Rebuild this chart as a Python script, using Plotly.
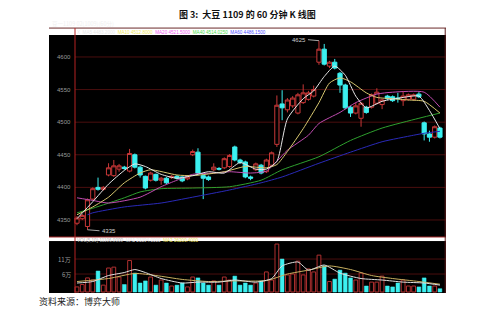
import plotly.graph_objects as go

# ---------------- data ----------------
idx = list(range(70))
opens = [4345, 4352, 4340, 4382, 4400, 4397, 4419, 4418, 4428, 4431,
         4425, 4450, 4431, 4417, 4411, 4420, 4411, 4414, 4415, 4417,
         4416, 4413, 4450, 4454, 4418, 4416, 4427, 4429, 4430, 4432,
         4462, 4442, 4439, 4416, 4427, 4434, 4424, 4434, 4466, 4528,
         4519, 4525, 4514, 4530, 4535, 4540, 4592, 4612, 4586, 4592,
         4575, 4557, 4523, 4514, 4506, 4523, 4523, 4529, 4527, 4540,
         4539, 4537, 4533, 4535, 4535, 4543, 4499, 4482, 4477, 4491]
highs = [4356, 4359, 4383, 4400, 4415, 4402, 4437, 4442, 4436, 4433,
         4459, 4452, 4433, 4418, 4424, 4421, 4416, 4416, 4419, 4419,
         4417, 4418, 4458, 4460, 4420, 4418, 4437, 4431, 4446, 4451,
         4464, 4444, 4441, 4418, 4438, 4436, 4444, 4455, 4541, 4549,
         4537, 4540, 4545, 4558, 4548, 4556, 4625, 4620, 4594, 4597,
         4577, 4559, 4525, 4530, 4531, 4525, 4544, 4552, 4536, 4542,
         4541, 4545, 4548, 4544, 4544, 4546, 4501, 4487, 4495, 4493]
lows = [4342, 4350, 4335, 4380, 4395, 4395, 4417, 4416, 4424, 4427,
        4423, 4429, 4415, 4397, 4409, 4409, 4404, 4405, 4413, 4412,
        4408, 4411, 4448, 4420, 4382, 4410, 4425, 4426, 4428, 4430,
        4440, 4436, 4414, 4411, 4425, 4420, 4422, 4432, 4462, 4503,
        4515, 4522, 4512, 4528, 4533, 4538, 4588, 4587, 4583, 4581,
        4545, 4520, 4508, 4512, 4493, 4513, 4521, 4527, 4520, 4534,
        4531, 4530, 4525, 4533, 4533, 4537, 4472, 4470, 4475, 4475]
closes = [4353, 4357, 4381, 4398, 4397, 4400, 4430, 4433, 4433, 4429,
          4452, 4431, 4419, 4399, 4422, 4411, 4414, 4407, 4417, 4414,
          4410, 4416, 4455, 4422, 4414, 4412, 4431, 4428, 4444, 4449,
          4442, 4438, 4416, 4414, 4436, 4422, 4442, 4453, 4526, 4522,
          4534, 4537, 4542, 4545, 4545, 4550, 4612, 4589, 4592, 4583,
          4557, 4522, 4514, 4525, 4529, 4515, 4542, 4546, 4534, 4536,
          4533, 4536, 4540, 4542, 4542, 4539, 4482, 4477, 4493, 4477]
# volume, unit: 10,000 (万)
volumes = [1.7, 2.5, 4.7, 4.0, 7.0, 2.3, 8.0, 8.3, 5.0, 2.5,
           10.5, 6.3, 3.0, 3.7, 5.0, 2.3, 4.0, 3.0, 2.0, 2.3,
           3.0, 1.7, 5.0, 4.7, 3.0, 2.3, 3.7, 2.3, 5.0, 4.0,
           5.3, 2.3, 3.0, 2.3, 3.0, 3.7, 6.7, 4.0, 16.0, 11.0,
           5.7, 6.0, 10.3, 5.7, 7.7, 6.7, 12.3, 8.7, 3.5, 4.3,
           7.3, 6.3, 4.7, 4.0, 6.3, 2.0, 3.3, 3.3, 5.3, 2.0,
           1.7, 3.0, 4.0, 2.0, 2.0, 1.7, 4.7, 2.0, 2.0, 1.1]

# moving-average lines (candle index, value)
ma5_x = [0, 3, 6, 9, 11, 13, 16, 19, 22, 25, 28, 31, 34, 36, 38, 40, 43, 45, 47, 49, 51, 53, 55, 58, 62, 65, 67, 69]
ma5_y = [4352, 4378, 4405, 4426, 4436, 4432, 4420, 4414, 4418, 4424, 4422, 4438, 4428, 4428, 4440, 4505, 4536, 4548,
         4570, 4586, 4572, 4540, 4522, 4532, 4538, 4540, 4518, 4490]
ma10_x = [0, 3, 6, 9, 12, 14, 19, 22, 28, 32, 36, 38, 40, 43, 46, 48, 50, 52, 55, 57, 60, 63, 66, 69]
ma10_y = [4358, 4370, 4385, 4407, 4422, 4427, 4419, 4418, 4424, 4432, 4430, 4435, 4455, 4490, 4530, 4560, 4568,
          4562, 4545, 4538, 4536, 4534, 4532, 4514]
ma20_x = [0, 3, 6, 12, 16, 19, 22, 26, 29, 33, 36, 38, 40, 44, 46, 50, 53, 57, 60, 66, 69]
ma20_y = [4384, 4380, 4376, 4385, 4401, 4411, 4420, 4422, 4424, 4422, 4425, 4440, 4457, 4480, 4498, 4515, 4530,
          4543, 4546, 4546, 4523]
ma40_x = [0, 3, 9, 12, 16, 22, 29, 35, 39, 46, 52, 58, 65, 69]
ma40_y = [4361, 4368, 4384, 4393, 4398, 4399, 4401, 4411, 4427, 4447, 4472, 4491, 4506, 4514]
ma60_x = [2, 3, 9, 16, 22, 29, 35, 39, 46, 52, 58, 64, 66, 69]
ma60_y = [4358, 4361, 4370, 4376, 4385, 4396, 4407, 4416, 4437, 4454, 4470, 4480, 4483, 4486]

vma5_x = [0, 3, 6, 9, 11, 13, 16, 20, 23, 27, 30, 34, 37, 39, 42, 44, 47, 50, 54, 58, 62, 66, 69]
vma5_y = [3.0, 3.5, 5.5, 6.5, 7.5, 6.5, 4.5, 3.0, 3.3, 3.3, 4.0, 3.3, 4.5, 8.7, 10.0, 7.3, 9.0, 6.3, 4.5, 4.0, 3.3, 3.0, 2.3]
vma10_x = [0, 6, 11, 15, 20, 25, 30, 36, 40, 44, 48, 52, 56, 60, 65, 69]
vma10_y = [3.5, 4.5, 6.2, 5.5, 4.2, 3.5, 3.7, 3.8, 6.0, 7.3, 8.7, 7.5, 5.5, 4.5, 3.5, 2.6]

price_ticks = [4350, 4400, 4450, 4500, 4550, 4600]
vol_ticks = [6, 11]
vol_tick_text = ["6万", "11万"]

title_text = "图 3:  大豆 1109 的 60 分钟 K 线图"
header_text = "豆一1109 02(1009)(60分)"
source_text = "资料来源：博弈大师"
low_label, high_label = 4335, 4625

# ---------------- figure ----------------
RED = "#c83838"
CYAN = "#3cf0f0"
fig = go.Figure()

fig.add_trace(go.Candlestick(
    x=idx, open=opens, high=highs, low=lows, close=closes,
    increasing=dict(line=dict(color=RED, width=1), fillcolor="#000000"),
    decreasing=dict(line=dict(color=CYAN, width=1), fillcolor=CYAN),
    whiskerwidth=0, showlegend=False, hoverinfo="skip",
    xaxis="x", yaxis="y"))

for xs, ys, col in [(ma60_x, ma60_y, "#2a2ab8"), (ma40_x, ma40_y, "#2ea02e"),
                    (ma20_x, ma20_y, "#c04cb0"), (ma10_x, ma10_y, "#d8c870"),
                    (ma5_x, ma5_y, "#e6e6e6")]:
    fig.add_trace(go.Scatter(x=xs, y=ys, mode="lines",
                             line=dict(color=col, width=1, shape="spline", smoothing=0.6),
                             showlegend=False, hoverinfo="skip", xaxis="x", yaxis="y"))

up_x = [i for i in idx if closes[i] >= opens[i]]
dn_x = [i for i in idx if closes[i] < opens[i]]
fig.add_trace(go.Bar(x=up_x, y=[volumes[i] for i in up_x], width=0.72,
                     marker=dict(color="#000000", line=dict(color="#b03030", width=1)),
                     showlegend=False, hoverinfo="skip", xaxis="x", yaxis="y2"))
fig.add_trace(go.Bar(x=dn_x, y=[volumes[i] for i in dn_x], width=0.72,
                     marker=dict(color=CYAN, line=dict(color=CYAN, width=0.5)),
                     showlegend=False, hoverinfo="skip", xaxis="x", yaxis="y2"))
for xs, ys, col in [(vma10_x, vma10_y, "#c8b060"), (vma5_x, vma5_y, "#e0e0e0")]:
    fig.add_trace(go.Scatter(x=xs, y=ys, mode="lines",
                             line=dict(color=col, width=1, shape="spline", smoothing=0.6),
                             showlegend=False, hoverinfo="skip", xaxis="x", yaxis="y2"))

AXX = 0.0655  # left vertical axis line position (paper)
shapes = []
for v in price_ticks:
    shapes.append(dict(type="line", xref="paper", yref="y", x0=AXX, x1=1, y0=v, y1=v,
                       line=dict(color="#4a0e0e", width=1), layer="below"))
for v in vol_ticks:
    shapes.append(dict(type="line", xref="paper", yref="y2", x0=AXX, x1=1, y0=v, y1=v,
                       line=dict(color="#4a0e0e", width=1), layer="below"))
shapes += [
    dict(type="line", xref="paper", yref="paper", x0=0, x1=1, y0=0.974, y1=0.974,
         line=dict(color="#6a2a2a", width=1)),
    dict(type="line", xref="paper", yref="paper", x0=0, x1=1, y0=0.2059, y1=0.2059,
         line=dict(color="#a02626", width=1)),
    dict(type="line", xref="paper", yref="paper", x0=AXX, x1=AXX, y0=0, y1=0.974,
         line=dict(color="#b42222", width=1)),
    dict(type="line", xref="paper", yref="paper", x0=0.998, x1=0.998, y0=0, y1=0.974,
         line=dict(color="#5a1a1a", width=1)),
]

MONO = "DejaVu Sans Mono"
ann = []
for v in price_ticks:
    ann.append(dict(xref="paper", yref="y", x=0.0605, y=v, text=str(v), showarrow=False,
                    xanchor="right", yanchor="middle",
                    font=dict(family="Liberation Sans", size=6, color="#9a9a9a")))
for v, t in zip(vol_ticks, vol_tick_text):
    ann.append(dict(xref="paper", yref="y2", x=0.0605, y=v, text=t, showarrow=False,
                    xanchor="right", yanchor="middle",
                    font=dict(family="Noto Sans CJK SC", size=6, color="#9a9a9a")))
ann.append(dict(xref="paper", yref="paper", x=0.003, y=0.988, text=header_text, showarrow=False,
                xanchor="left", yanchor="middle", font=dict(family="Noto Sans CJK SC", size=5.5, color="#f0f0f0")))
legend_html = ("<span style='color:#e8e8e8'>X  MA5 4483.2000</span>  "
               "<span style='color:#f0e860'>MA10 4512.8000</span>  "
               "<span style='color:#f060f0'>MA20 4521.5000</span>  "
               "<span style='color:#50e050'>MA40 4514.0250</span>  "
               "<span style='color:#5050ff'>MA60 4486.1500</span>")
ann.append(dict(xref="paper", yref="paper", x=0.066, y=0.958, text=legend_html, showarrow=False,
                xanchor="left", yanchor="middle", font=dict(family="Liberation Sans", size=4.6, color="#e0e0e0")))
vol_html = ("<span style='color:#b8b8b8'>VOL(5,10) 11106.0000</span>  "
            "<span style='color:#e8e8e8'>MA1 23394.0000</span>  "
            "<span style='color:#f0e860'>MA2 26200.4000</span>")
ann.append(dict(xref="paper", yref="paper", x=0.066, y=0.193, text=vol_html, showarrow=False,
                xanchor="left", yanchor="middle", font=dict(family="Liberation Sans", size=4.6, color="#e0e0e0")))
ann.append(dict(xref="x", yref="y", x=2, y=low_label, text=str(low_label), showarrow=True,
                ax=12, ay=1, arrowhead=0, arrowwidth=0.8, arrowcolor="#d0d0d0", xanchor="left",
                font=dict(family="Liberation Sans", size=6, color="#d0d0d0")))
ann.append(dict(xref="x", yref="y", x=46, y=high_label, text=str(high_label), showarrow=True,
                ax=-11, ay=-1, arrowhead=0, arrowwidth=0.8, arrowcolor="#d0d0d0", xanchor="right",
                font=dict(family="Liberation Sans", size=6, color="#d0d0d0")))
ann.append(dict(xref="paper", yref="paper", x=0.5, y=1.0257, text="<b>" + title_text + "</b>", showarrow=False,
                xanchor="center", yanchor="middle", font=dict(family="Noto Sans CJK SC", size=9, color="#111111")))
ann.append(dict(xref="paper", yref="paper", x=-0.03, y=-0.033, text=source_text, showarrow=False,
                xanchor="left", yanchor="middle", font=dict(family="Noto Sans CJK SC", size=9, color="#222222")))

fig.update_layout(
    width=498, height=316,
    margin=dict(l=49, r=52, t=21, b=23),
    paper_bgcolor="#ffffff", plot_bgcolor="#000000",
    showlegend=False, barmode="overlay", boxgap=0.2, boxgroupgap=0,
    xaxis=dict(domain=[0, 1], range=[-5.32, 70.15], showgrid=False, zeroline=False,
               showticklabels=False, ticks="", showline=False, rangeslider=dict(visible=False),
               anchor="y2"),
    yaxis=dict(domain=[0.2059, 0.9485], range=[4323.9, 4633.7], showgrid=False, zeroline=False,
               showticklabels=False, ticks="", showline=False),
    yaxis2=dict(domain=[0, 0.191], range=[-0.33, 17.0], showgrid=False, zeroline=False,
                showticklabels=False, ticks="", showline=False),
    shapes=shapes, annotations=ann,
)

fig.write_html("out.html")
